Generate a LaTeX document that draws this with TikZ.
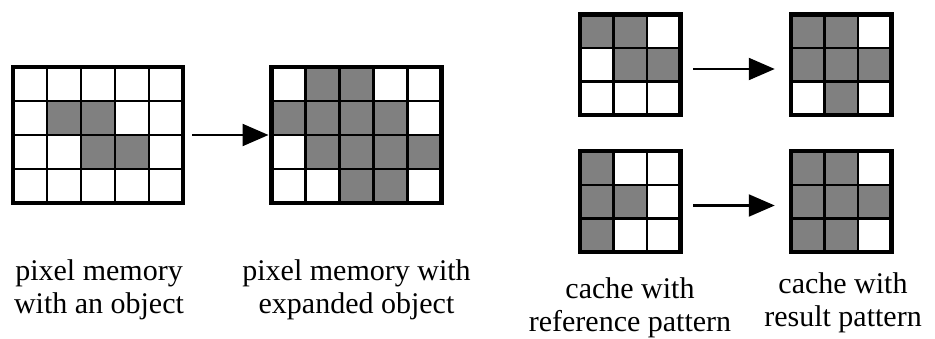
\documentclass[tikz,border=0pt]{standalone}
\usepackage{fontspec}
\setmainfont{Liberation Serif}
\usetikzlibrary{arrows.meta, backgrounds, calc}
\definecolor{CellGray}{HTML}{808080}
\newcommand{\LabelFont}{\fontsize{30pt}{33pt}\selectfont}
% shaded cells and inner rules behind a grid node:
% #1 node, #2 columns, #3 rows, #4 cell size, #5 shaded cells as col/row
\newcommand{\FillGrid}[5]{%
  \begin{scope}[on background layer]
    \foreach \c/\r in {#5}
      \fill[CellGray] ($(#1.north west)+({(\c-1)*#4},{-(\r-1)*#4})$) rectangle +(#4,-#4);
    \foreach \c in {2,...,#2}
      \draw[cellrule] ($(#1.north west)+({(\c-1)*#4},0)$) -- ($(#1.south west)+({(\c-1)*#4},0)$);
    \foreach \r in {2,...,#3}
      \draw[cellrule] ($(#1.north west)+(0,{-(\r-1)*#4})$) -- ($(#1.north east)+(0,{-(\r-1)*#4})$);
  \end{scope}%
}
\tikzset{
  gridbox/.style={draw, line width=4.5pt, inner sep=0pt, outer sep=0pt},
  cellrule/.style={line width=2.5pt},
  flow/.style={line width=2.2pt, -{Triangle[length=26pt,width=22pt]}},
  caption/.style={font=\LabelFont, align=center, inner sep=0pt}
}

\begin{document}
\begin{tikzpicture}[x=1pt, y=1pt]
  \useasboundingbox (0,0) rectangle (935,338);
  % pixel memory, before and after expansion
  \node[gridbox, minimum width=170pt, minimum height=136pt] (mem) at (98,203) {};
  \node[gridbox, minimum width=170pt, minimum height=136pt] (memx) at (356.5,203) {};
  \FillGrid{mem}{5}{4}{34}{2/2, 3/2, 3/3, 4/3}
  \FillGrid{memx}{5}{4}{34}{2/1, 3/1, 1/2, 2/2, 3/2, 4/2, 2/3, 3/3, 4/3, 5/3, 3/4, 4/4}
  \draw[flow, shorten <=9pt, shorten >=3pt] (mem.east) -- (memx.west);
  % 3x3 caches
  \node[gridbox, minimum width=100.5pt, minimum height=100.5pt] (refA) at (630,273) {};
  \node[gridbox, minimum width=100.5pt, minimum height=100.5pt] (resA) at (841,273) {};
  \node[gridbox, minimum width=100.5pt, minimum height=100.5pt] (refB) at (630,136.5) {};
  \node[gridbox, minimum width=100.5pt, minimum height=100.5pt] (resB) at (841,136.5) {};
  \FillGrid{refA}{3}{3}{33.5}{1/1, 2/1, 2/2, 3/2}
  \FillGrid{resA}{3}{3}{33.5}{1/1, 2/1, 1/2, 2/2, 3/2, 2/3}
  \FillGrid{refB}{3}{3}{33.5}{1/1, 1/2, 2/2, 1/3}
  \FillGrid{resB}{3}{3}{33.5}{1/1, 2/1, 1/2, 2/2, 3/2, 1/3, 2/3}
  \draw[flow, shorten <=13pt, shorten >=16pt] ([yshift=-4pt]refA.east) -- ([yshift=-4pt]resA.west);
  \draw[flow, shorten <=13pt, shorten >=16pt] ([yshift=-4pt]refB.east) -- ([yshift=-4pt]resB.west);
  % captions
  \node[caption] (memtxt) at (99,48) {pixel memory\\with an object};
  \node[caption] (memxtxt) at (356.5,48) {pixel memory with\\expanded object};
  \node[caption] (reftxt) at (630,30) {cache with\\reference pattern};
  \node[caption] (restxt) at (843,35) {cache with\\result pattern};
\end{tikzpicture}
\end{document}
